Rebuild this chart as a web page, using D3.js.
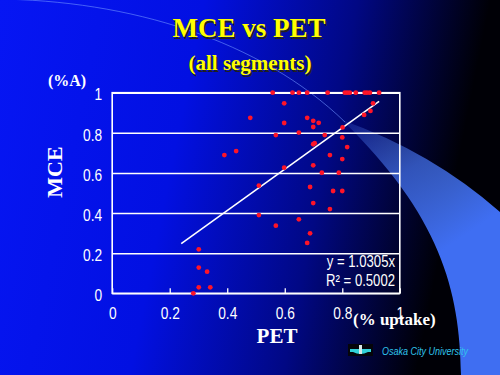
<!DOCTYPE html>
<html>
<head>
<meta charset="utf-8">
<script src="https://cdn.jsdelivr.net/npm/d3@7"></script>
<style>
  body { margin: 0; background: #000; }
  svg { display: block; }
</style>
</head>
<body>
<div id="container"></div>
<script>
/* CONSTANTS AND GLOBALS */
const width = 500;
const height = 375;
const margin = {top: 92.7, bottom: 81.7, left: 112.2, right: 100.2};
const squeeze = 0.86; // labels in the picture use a narrow face

/* DATA */
// PET uptake (x) and MCE %A (y)
const pet = [0.558, 0.627, 0.649, 0.678, 0.749, 0.809, 0.817, 0.826, 0.847, 0.878, 0.886, 0.896, 0.928,
  0.598, 0.907, 0.898, 0.876, 0.480, 0.678, 0.699, 0.718, 0.598, 0.699, 0.801, 0.649, 0.569, 0.739,
  0.800, 0.704, 0.699, 0.817, 0.431, 0.390, 0.757, 0.800, 0.598, 0.699, 0.729, 0.788, 0.510, 0.688,
  0.768, 0.800, 0.699, 0.757, 0.510, 0.649, 0.569, 0.688, 0.678, 0.301, 0.301, 0.330, 0.301, 0.341, 0.282];
const mce = [1, 1, 1, 1, 1, 1, 1, 1, 1, 1, 1, 1, 1,
  0.947, 0.947, 0.909, 0.889, 0.875, 0.875, 0.860, 0.850, 0.849, 0.829, 0.827, 0.801, 0.789, 0.789,
  0.777, 0.748, 0.743, 0.729, 0.709, 0.689, 0.689, 0.669, 0.626, 0.638, 0.601, 0.601, 0.537, 0.530,
  0.510, 0.510, 0.450, 0.420, 0.390, 0.369, 0.337, 0.299, 0.251, 0.219, 0.128, 0.108, 0.030, 0.030, 0.0];
const data = pet.map((d, i) => ({x: d, y: mce[i]}));

const xTicks = [0, 0.2, 0.4, 0.6, 0.8, 1];
const yTicks = [0, 0.2, 0.4, 0.6, 0.8, 1];
const trendSlope = 1.0305;
const trendX = [0.24, 0.928];
const equation = ["y = 1.0305x", "R² = 0.5002"];

const sans = "'Liberation Sans', Arial, sans-serif";
const serif = "'Liberation Serif', 'Times New Roman', serif";

/* SCALES */
const xScale = d3.scaleLinear()
  .domain([0, 1])
  .range([margin.left, width - margin.right]);

const yScale = d3.scaleLinear()
  .domain([0, 1])
  .range([height - margin.bottom, margin.top]);

/* HTML ELEMENTS */
const svg = d3.select("#container")
  .append("svg")
  .attr("width", width)
  .attr("height", height);

// Background gradients
const defs = svg.append("defs");
const bg = defs.append("linearGradient")
  .attr("id", "bg")
  .attr("x1", 0).attr("y1", 0).attr("x2", 1).attr("y2", 0.15);
bg.append("stop").attr("offset", 0).attr("stop-color", "#0616f4");
bg.append("stop").attr("offset", 0.4).attr("stop-color", "#0210e2");
bg.append("stop").attr("offset", 0.7).attr("stop-color", "#010884");
bg.append("stop").attr("offset", 0.96).attr("stop-color", "#000006");

const swoosh = defs.append("linearGradient")
  .attr("id", "swoosh")
  .attr("gradientUnits", "userSpaceOnUse")
  .attr("x1", 345).attr("y1", 122).attr("x2", 465).attr("y2", 300);
swoosh.append("stop").attr("offset", 0).attr("stop-color", "#5a8aff").attr("stop-opacity", 0.15);
swoosh.append("stop").attr("offset", 0.35).attr("stop-color", "#4676f4").attr("stop-opacity", 0.7);
swoosh.append("stop").attr("offset", 0.75).attr("stop-color", "#3f6ef2").attr("stop-opacity", 1);

svg.append("rect")
  .attr("width", width)
  .attr("height", height)
  .attr("fill", "url(#bg)");

// Decorative arc and wedge
svg.append("path")
  .attr("d", "M -5,-1 C 130,0 260,40 345,122")
  .attr("fill", "none")
  .attr("stroke", "#6f93ff")
  .attr("stroke-opacity", 0.6)
  .attr("stroke-width", 1);

svg.append("path")
  .attr("d", "M 342,120 Q 432,152 500,212 L 500,375 L 461,375 C 460,290 440,215 342,120 Z")
  .attr("fill", "url(#swoosh)");

/* GRID AND AXES */
const yAxis = d3.axisLeft(yScale)
  .tickValues(yTicks)
  .tickFormat(d3.format("~g"))
  .tickSizeInner(-(width - margin.left - margin.right))
  .tickSizeOuter(0)
  .tickPadding(10);

svg.append("g")
  .attr("transform", `translate(${margin.left}, 0)`)
  .call(yAxis)
  .call(g => g.select(".domain").remove())
  .call(g => g.selectAll(".tick line").attr("stroke", "white").attr("stroke-width", 1.6))
  .call(g => g.selectAll(".tick text")
    .attr("x", -10 / squeeze)
    .attr("transform", `scale(${squeeze}, 1)`)
    .attr("fill", "white")
    .attr("dy", "0.45em")
    .style("font-family", sans)
    .style("font-size", "16px"));

const xAxis = d3.axisBottom(xScale)
  .tickValues(xTicks)
  .tickFormat(d3.format("~g"))
  .tickSizeInner(-5)
  .tickSizeOuter(0)
  .tickPadding(14);

svg.append("g")
  .attr("transform", `translate(0, ${height - margin.bottom})`)
  .call(xAxis)
  .call(g => g.select(".domain").remove())
  .call(g => g.selectAll(".tick line").attr("stroke", "white").attr("stroke-width", 1.3))
  .call(g => g.selectAll(".tick text")
    .attr("transform", `scale(${squeeze}, 1)`)
    .attr("fill", "white")
    .style("font-family", sans)
    .style("font-size", "16px"));

// Plot frame
svg.append("rect")
  .attr("x", xScale(0))
  .attr("y", yScale(1))
  .attr("width", xScale(1) - xScale(0))
  .attr("height", yScale(0) - yScale(1))
  .attr("fill", "none")
  .attr("stroke", "white")
  .attr("stroke-width", 1.6);

/* TREND LINE */
const line = d3.line()
  .x(d => xScale(d))
  .y(d => yScale(d * trendSlope));

svg.append("path")
  .datum(trendX)
  .attr("d", line)
  .attr("fill", "none")
  .attr("stroke", "white")
  .attr("stroke-width", 1.6);

/* POINTS */
svg.selectAll(".pt")
  .data(data)
  .join("circle")
  .attr("class", "pt")
  .attr("cx", d => xScale(d.x))
  .attr("cy", d => yScale(d.y))
  .attr("r", 2.4)
  .attr("fill", "#ff1428");

/* EQUATION */
equation.forEach((t, i) =>
  svg.append("text")
    .attr("transform", `translate(395, ${267 + i * 19}) scale(0.82, 1)`)
    .attr("text-anchor", "end")
    .attr("fill", "white")
    .style("font-family", sans)
    .style("font-size", "16px")
    .text(t)
);

/* TITLES AND LABELS */
[[1.5, "#202020"], [0, "#ffff00"]].forEach(([o, c]) => {
  svg.append("text")
    .attr("x", 249 + o)
    .attr("y", 37 + o)
    .attr("text-anchor", "middle")
    .attr("fill", c)
    .style("font-family", serif)
    .style("font-weight", "bold")
    .style("font-size", "27px")
    .text("MCE vs PET");
  svg.append("text")
    .attr("x", 250 + o)
    .attr("y", 70 + o)
    .attr("text-anchor", "middle")
    .attr("fill", c)
    .style("font-family", serif)
    .style("font-weight", "bold")
    .style("font-size", "21px")
    .text("(all segments)");
});

svg.append("text")
  .attr("x", 67)
  .attr("y", 86)
  .attr("text-anchor", "middle")
  .attr("fill", "white")
  .style("font-family", serif)
  .style("font-weight", "bold")
  .style("font-size", "16px")
  .text("(%A)");

svg.append("text")
  .attr("transform", "translate(62, 172) rotate(-90)")
  .attr("text-anchor", "middle")
  .attr("fill", "white")
  .style("font-family", serif)
  .style("font-weight", "bold")
  .style("font-size", "22px")
  .text("MCE");

svg.append("text")
  .attr("x", 277)
  .attr("y", 343)
  .attr("text-anchor", "middle")
  .attr("fill", "white")
  .style("font-family", serif)
  .style("font-weight", "bold")
  .style("font-size", "21px")
  .text("PET");

svg.append("text")
  .attr("x", 353)
  .attr("y", 325)
  .attr("fill", "white")
  .style("font-family", serif)
  .style("font-weight", "bold")
  .style("font-size", "17px")
  .text("(% uptake)");

/* LOGO */
const logo = svg.append("g").attr("transform", "translate(348, 344)");
logo.append("rect").attr("width", 25).attr("height", 12).attr("fill", "#05050a");
logo.append("rect").attr("x", 2).attr("y", 5).attr("width", 21).attr("height", 3).attr("fill", "#30d0d8");
logo.append("path").attr("d", "M 5,8 Q 12.5,12 20,8 Z").attr("fill", "#30d0d8");
logo.append("rect").attr("x", 11).attr("y", 1).attr("width", 3).attr("height", 9).attr("fill", "#d8e8e8");

svg.append("text")
  .attr("transform", "translate(382, 355) scale(0.9, 1)")
  .attr("fill", "#2fc4ec")
  .style("font-family", sans)
  .style("font-style", "italic")
  .style("font-size", "10px")
  .text("Osaka City University");
</script>
</body>
</html>
